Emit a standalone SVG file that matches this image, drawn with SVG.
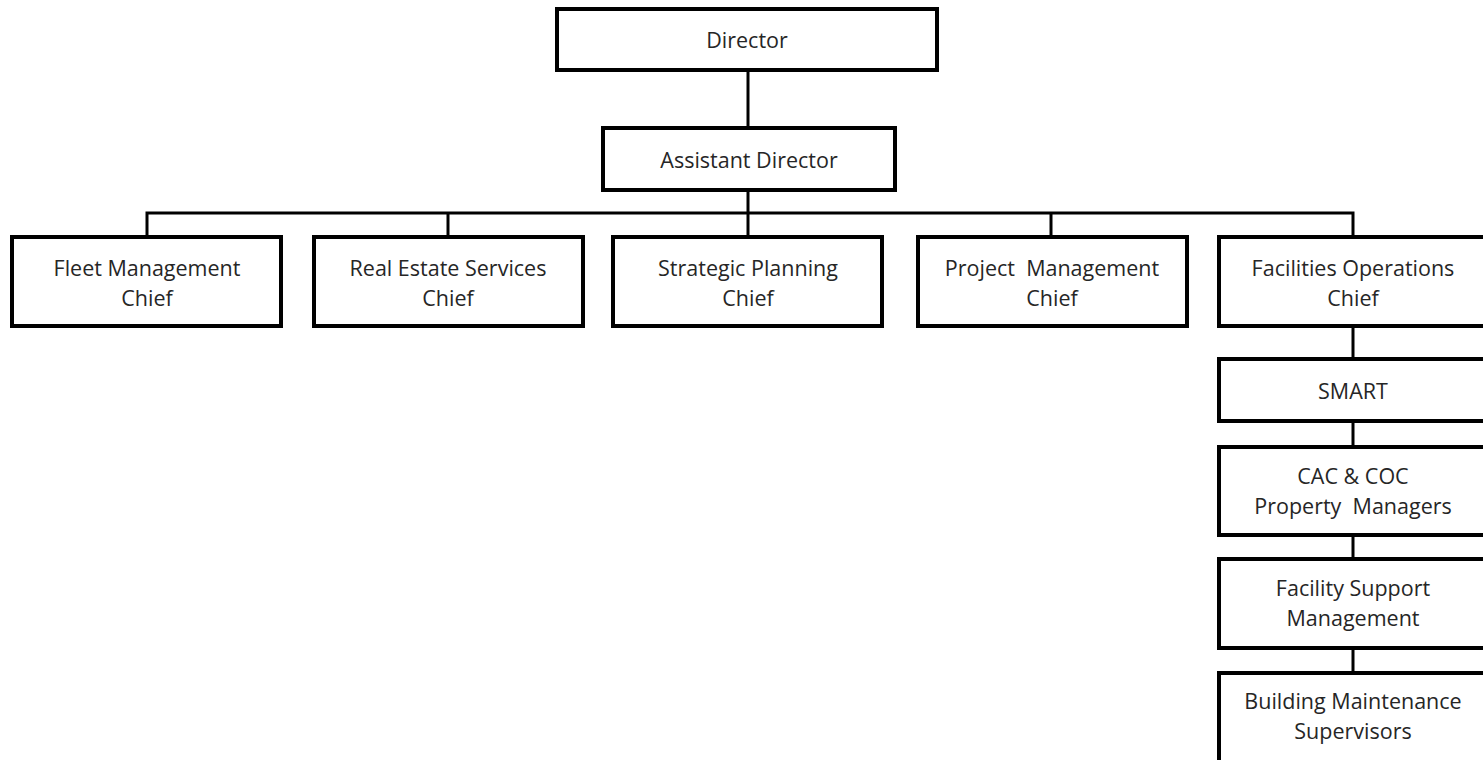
<svg xmlns="http://www.w3.org/2000/svg" width="1483" height="760" viewBox="0 0 1483 760">
<style>
.box{fill:#fff;stroke:#000;stroke-width:4}
.con{fill:none;stroke:#000;stroke-width:3}
text{font-family:"Open Sans","Liberation Sans",sans-serif;font-size:21.5px;fill:#262626;text-anchor:middle}
</style>
<rect width="1483" height="760" fill="#fff"/>
<g id="connectors">
<line class="con" x1="748" y1="70" x2="748" y2="128"/>
<line class="con" x1="748" y1="190" x2="748" y2="236"/>
<polyline class="con" points="147,236 147,213 1353,213 1353,236"/>
<line class="con" x1="448" y1="213" x2="448" y2="236"/>
<line class="con" x1="1051" y1="213" x2="1051" y2="236"/>
<line class="con" x1="1353" y1="326" x2="1353" y2="673"/>
</g>
<g id="director"><rect class="box" x="557" y="9" width="380" height="61"/><text x="747" y="48">Director</text></g>
<g id="assistant-director"><rect class="box" x="603" y="128" width="292" height="62"/><text x="749" y="168">Assistant Director</text></g>
<g id="fleet"><rect class="box" x="12" y="237" width="269" height="89"/><text x="147" y="276">Fleet Management</text><text x="147" y="306">Chief</text></g>
<g id="real-estate"><rect class="box" x="314" y="237" width="269" height="89"/><text x="448" y="276">Real Estate Services</text><text x="448" y="306">Chief</text></g>
<g id="strategic"><rect class="box" x="613" y="237" width="269" height="89"/><text x="748" y="276">Strategic Planning</text><text x="748" y="306">Chief</text></g>
<g id="project"><rect class="box" x="918" y="237" width="269" height="89"/><text x="1052" y="276" xml:space="preserve">Project  Management</text><text x="1052" y="306">Chief</text></g>
<g id="facilities"><rect class="box" x="1219" y="237" width="270" height="89"/><text x="1353" y="276">Facilities Operations</text><text x="1353" y="306">Chief</text></g>
<g id="smart"><rect class="box" x="1219" y="359" width="270" height="62"/><text x="1353" y="399">SMART</text></g>
<g id="cac-coc"><rect class="box" x="1219" y="447" width="270" height="88"/><text x="1353" y="484">CAC &amp; COC</text><text x="1353" y="514" xml:space="preserve">Property  Managers</text></g>
<g id="facility-support"><rect class="box" x="1219" y="559" width="270" height="89"/><text x="1353" y="596">Facility Support</text><text x="1353" y="626">Management</text></g>
<g id="building-maintenance"><rect class="box" x="1219" y="673" width="270" height="100"/><text x="1353" y="709">Building Maintenance</text><text x="1353" y="739">Supervisors</text></g>
</svg>
